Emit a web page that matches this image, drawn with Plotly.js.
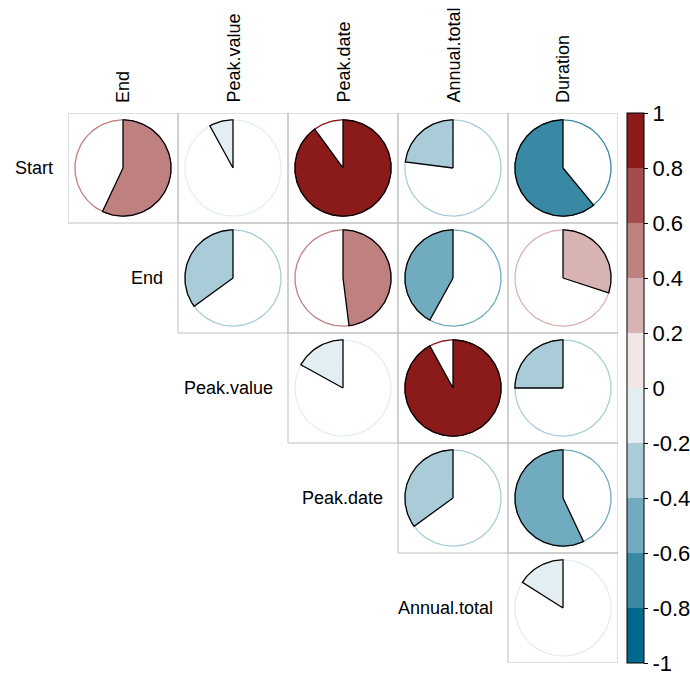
<!DOCTYPE html>
<html>
<head>
<meta charset="utf-8">
<script src="https://cdn.plot.ly/plotly-3.0.1.min.js"></script>
<style>html,body{margin:0;padding:0;background:#fff;}#chart{width:690px;height:679px;}</style>
</head>
<body>
<div id="chart"></div>
<script>
// Variables
const rowLabels = ["Start", "End", "Peak.value", "Peak.date", "Annual.total"];
const colLabels = ["End", "Peak.value", "Peak.date", "Annual.total", "Duration"];
// correlation values by row (null = lower triangle, not drawn)
const corrStart       = [0.57, -0.08, 0.90, -0.23, -0.61];
const corrEnd         = [null, -0.35, 0.48, -0.42, 0.30];
const corrPeakValue   = [null, null, -0.17, 0.92, -0.25];
const corrPeakDate    = [null, null, null, -0.35, -0.57];
const corrAnnualTotal = [null, null, null, null, -0.16];
// colour bins from -1 to 1 (width 0.2)
const palette = ["#00688B", "#3989A5", "#71ABBF", "#AACCD8", "#E3EEF2",
                 "#F2E6E6", "#D8B3B3", "#BF8080", "#A54D4D", "#8B1A1A"];
const tickValues = [-1, -0.8, -0.6, -0.4, -0.2, 0, 0.2, 0.4, 0.6, 0.8, 1];
const tickLabels = ["-1", "-0.8", "-0.6", "-0.4", "-0.2", "0", "0.2", "0.4", "0.6", "0.8", "1"];

const corr = [corrStart, corrEnd, corrPeakValue, corrPeakDate, corrAnnualTotal];
const FONT = "Liberation Sans, Arial, sans-serif";
const R = 0.437;

function binColor(v) {
  let k = Math.floor((v + 1) / 0.2 + 1e-9);
  if (k > 9) k = 9;
  if (k < 0) k = 0;
  return palette[k];
}

const traces = [];
const shapes = [];
const annotations = [];

for (let i = 0; i < rowLabels.length; i++) {
  for (let j = 0; j < colLabels.length; j++) {
    const v = corr[i][j];
    if (v === null || v === undefined) continue;
    shapes.push({type: "rect", xref: "x", yref: "y", x0: j, x1: j + 1, y0: i, y1: i + 1,
                 line: {color: "#C0C0C0", width: 1}, layer: "below"});
    const cx = j + 0.5, cy = i + 0.5;
    const col = binColor(v);
    // full circle outline
    const ox = [], oy = [];
    for (let k = 0; k <= 180; k++) {
      const t = 2 * Math.PI * k / 180;
      ox.push(cx + R * Math.sin(t));
      oy.push(cy - R * Math.cos(t));
    }
    traces.push({type: "scatter", mode: "lines", x: ox, y: oy,
                 line: {color: col, width: 1.3}, hoverinfo: "skip", showlegend: false});
    // wedge
    const sign = v >= 0 ? 1 : -1;
    const theta = Math.abs(v) * 2 * Math.PI;
    const n = Math.max(4, Math.ceil(Math.abs(v) * 180));
    const wx = [cx], wy = [cy];
    for (let k = 0; k <= n; k++) {
      const t = sign * theta * k / n;
      wx.push(cx + R * Math.sin(t));
      wy.push(cy - R * Math.cos(t));
    }
    wx.push(cx); wy.push(cy);
    traces.push({type: "scatter", mode: "lines", x: wx, y: wy, fill: "toself",
                 fillcolor: col, line: {color: "#000000", width: 1.3},
                 hoverinfo: "skip", showlegend: false});
  }
}

// row labels
rowLabels.forEach((lab, i) => {
  annotations.push({text: lab, xref: "x", yref: "y", x: i, y: i + 0.5,
                    xanchor: "right", yanchor: "middle", xshift: -13, showarrow: false,
                    font: {family: FONT, size: 18, color: "#000000"}});
});
// column labels
colLabels.forEach((lab, j) => {
  annotations.push({text: lab, xref: "x", yref: "paper", x: j + 0.5, y: 1,
                    xanchor: "center", yanchor: "bottom", yshift: 8, textangle: -90,
                    showarrow: false, font: {family: FONT, size: 18, color: "#000000"}});
});

// colour bar
const cscale = [];
palette.forEach((c, k) => { cscale.push([k / 10, c]); cscale.push([(k + 1) / 10, c]); });
traces.push({type: "scatter", mode: "markers", x: [-5, -5], y: [-5, -5],
  marker: {color: [-1, 1], cmin: -1, cmax: 1, colorscale: cscale, opacity: 0, showscale: true,
    colorbar: {x: (627 - 68) / 550, xanchor: "left", xref: "paper", y: 0.5, yanchor: "middle",
      len: 1, lenmode: "fraction", thickness: 17, thicknessmode: "pixels",
      outlinewidth: 1, outlinecolor: "#000000", xpad: 0, ypad: 0, borderwidth: 0,
      ticks: "outside", ticklen: 4, tickwidth: 1, tickcolor: "#000000",
      tickmode: "array", tickvals: tickValues, ticktext: tickLabels,
      tickfont: {family: FONT, size: 22, color: "#000000"}}},
  hoverinfo: "skip", showlegend: false});

const layout = {
  width: 690, height: 679,
  margin: {l: 68, r: 72, t: 113, b: 16, pad: 0, autoexpand: false},
  paper_bgcolor: "#ffffff", plot_bgcolor: "#ffffff",
  xaxis: {range: [0, 5], visible: false, fixedrange: true},
  yaxis: {range: [5, 0], visible: false, fixedrange: true},
  shapes: shapes, annotations: annotations, showlegend: false
};

Plotly.newPlot("chart", traces, layout, {displayModeBar: false, staticPlot: true});
</script>
</body>
</html>
